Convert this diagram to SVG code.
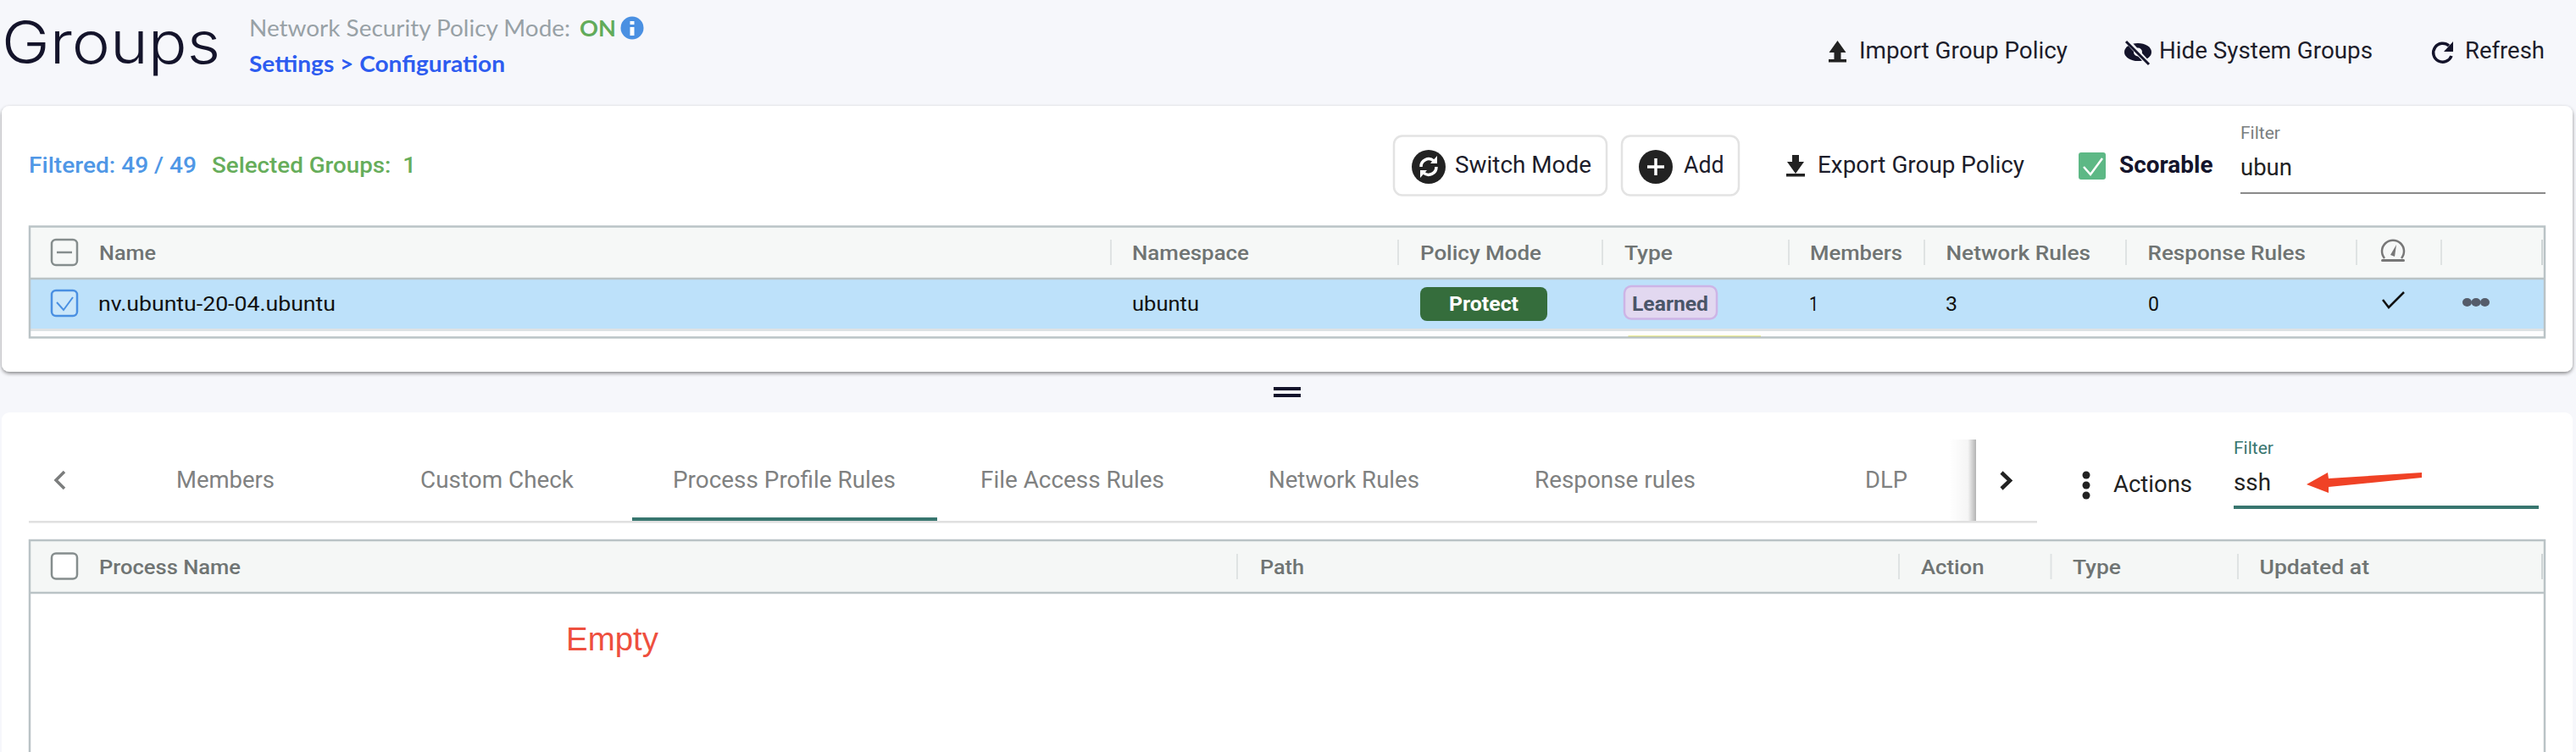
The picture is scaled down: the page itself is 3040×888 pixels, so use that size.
<svg xmlns="http://www.w3.org/2000/svg" width="3040" height="888" viewBox="0 0 3040 888">
<defs>
<style>
text{font-family:"Roboto","Liberation Sans",sans-serif;white-space:pre}
.hd{font-size:24px;font-weight:500;fill:#6f7473}
.cell{font-size:24px;fill:#111}
.tab{font-size:28px;fill:#7f8181}
.act{font-size:28px;fill:#1d1d2b}
.sep{stroke:#dfe3e3;stroke-width:2}
.sepd{stroke:#cfd5d6;stroke-width:2}
.panel{fill:#fff}
.border{stroke:#bac3c6;stroke-width:2.5;fill:none}
.btn{fill:#fff;stroke:#e3e3e3;stroke-width:2.5}
.dark{fill:#222}
.ic{fill:none;stroke:#fff;stroke-width:3.5}
</style>
<filter id="sh" x="-2%" y="-5%" width="104%" height="110%"><feDropShadow dx="0" dy="2" stdDeviation="2" flood-color="#000" flood-opacity=".45"/></filter>
<linearGradient id="fade"><stop offset="0" stop-color="#000" stop-opacity="0"/><stop offset=".7" stop-color="#000" stop-opacity=".04"/><stop offset="1" stop-color="#000" stop-opacity=".3"/></linearGradient>
</defs>
<rect width="3040" height="888" fill="#f6f7fb"/>

<g id="page-header">
<text x="2" y="75" font-size="70" font-weight="300" fill="#14142b" textLength="258" lengthAdjust="spacingAndGlyphs" style="font-family:Inter,Roboto,sans-serif">Groups</text>
<text x="294" y="43" font-size="26" fill="#98a1a6" textLength="379" lengthAdjust="spacingAndGlyphs" style="font-family:Lato,sans-serif">Network Security Policy Mode:</text>
<text x="684" y="43" font-size="27" font-weight="700" fill="#62ab5a" textLength="43" lengthAdjust="spacingAndGlyphs" style="font-family:Lato,sans-serif">ON</text>
<g id="info-icon"><circle cx="746" cy="33" r="13.5" fill="#4a90e2"/><rect x="743.5" y="32" width="5" height="10" fill="#fff"/><rect x="743.5" y="25" width="5" height="4" fill="#fff"/></g>
<text x="294" y="85" font-size="27" font-weight="700" fill="#2d5cf0" textLength="302" lengthAdjust="spacingAndGlyphs" style="font-family:Lato,sans-serif">Settings &gt; Configuration</text>
</g>

<g id="toolbar-top">
<g id="import-policy"><path d="M2168.500 48l10 14h-6v8h-8v-8h-6z" class="dark"/><rect x="2158" y="70" width="21" height="3.5" class="dark"/>
<text x="2194" y="69" class="act" textLength="246" lengthAdjust="spacingAndGlyphs">Import Group Policy</text></g>
<g id="hide-system"><ellipse cx="2523" cy="61.500" rx="16" ry="10.500" fill="#14142b"/><circle cx="2523" cy="61.500" r="5" fill="#f6f7fb"/><path d="M2512 50l24 26" stroke="#f6f7fb" stroke-width="6"/><path d="M2509 49l27 27" stroke="#14142b" stroke-width="3"/>
<text x="2548" y="69" class="act" textLength="252" lengthAdjust="spacingAndGlyphs">Hide System Groups</text></g>
<g id="refresh"><path d="M2890 54a11 11 0 1 0 3 12" fill="none" stroke="#14142b" stroke-width="3.500"/><path d="M2895 49v12h-11z" fill="#14142b"/>
<text x="2909" y="69" class="act" textLength="94" lengthAdjust="spacingAndGlyphs">Refresh</text></g>
</g>

<g id="groups-panel">
<rect class="panel" x="2" y="125" width="3034" height="314" rx="9" filter="url(#sh)"/>
<text x="34" y="204" font-size="26" font-weight="500" fill="#4f97e6" textLength="198" lengthAdjust="spacingAndGlyphs">Filtered: 49 / 49</text>
<text x="250" y="204" font-size="26" font-weight="500" fill="#66ad5a" textLength="241" lengthAdjust="spacingAndGlyphs">Selected Groups:  1</text>
<g id="btn-switch"><rect class="btn" x="1645" y="160.500" width="251" height="70" rx="10"/><circle class="dark" cx="1686" cy="197" r="20"/><path class="ic" d="M1677 197a9 9 0 0 1 15-7M1695 197a9 9 0 0 1-15 7" stroke-width="2.500"/><path d="M1696 184v9h-8zM1676 210v-9h8z" fill="#fff"/>
<text x="1717" y="204" class="act" textLength="161" lengthAdjust="spacingAndGlyphs">Switch Mode</text></g>
<g id="btn-add"><rect class="btn" x="1914" y="160.500" width="138" height="70" rx="10"/><circle class="dark" cx="1954" cy="197" r="20"/><path class="ic" d="M1944 197h20M1954 187v20"/>
<text x="1987" y="204" class="act" textLength="47.500" lengthAdjust="spacingAndGlyphs">Add</text></g>
<g id="export-policy"><path d="M2119 205l-10-14h6v-8h8v8h6z" class="dark"/><rect x="2108" y="205" width="22" height="3.500" class="dark"/>
<text x="2145" y="204" class="act" textLength="244" lengthAdjust="spacingAndGlyphs">Export Group Policy</text></g>
<g id="scorable"><rect x="2453" y="180" width="32" height="32" rx="3" fill="#5db885"/><path d="M2459 197l8 9 14-19" fill="none" stroke="#fff" stroke-width="2.500"/>
<text x="2501" y="204" font-size="28" font-weight="700" fill="#14142b" textLength="110.500" lengthAdjust="spacingAndGlyphs">Scorable</text></g>
<g id="filter-top"><text x="2644" y="164" font-size="20" fill="#7a7f80" textLength="47" lengthAdjust="spacingAndGlyphs">Filter</text>
<text x="2644" y="207" font-size="28" fill="#222" textLength="61" lengthAdjust="spacingAndGlyphs">ubun</text>
<rect x="2644" y="227" width="360" height="2" fill="#8a8a8a"/></g>

<g id="groups-table">
<rect x="34" y="267" width="2970" height="132" fill="#fdfdfe"/>
<rect x="34" y="267" width="2970" height="62" fill="#f6f8f7"/>
<rect x="34" y="330" width="2970" height="58" fill="#bde1fa"/>
<rect x="34" y="388" width="2970" height="3" fill="#dde2e4"/>
<rect x="1921.500" y="396.500" width="156.500" height="1.500" fill="#e3e34a"/>
<path class="border" d="M34 329H3004"/>
<rect class="border" x="35" y="267.500" width="2968" height="131"/>
<g id="cb-all"><rect x="61" y="283" width="30" height="30" rx="5" fill="none" stroke="#858d8d" stroke-width="2.500"/><path d="M67 298h18" stroke="#858d8d" stroke-width="2.500"/></g>
<g id="cb-row"><rect x="61" y="343" width="30" height="30" rx="5" fill="#eaf5fd" fill-opacity=".3" stroke="#4a90e2" stroke-width="2.500"/><path d="M67 357l8 9 11-15" fill="none" stroke="#4a90e2" stroke-width="2"/></g>
<text class="hd" x="117" y="307" textLength="67" lengthAdjust="spacingAndGlyphs">Name</text>
<path class="sep" d="M1311 283v30M1650 283v30M1891 283v30M2111 283v30M2271 283v30M2509 283v30M2781 283v30M2881 283v30"/>
<path class="sepd" d="M3000 283v30"/>
<text class="hd" x="1336" y="307" textLength="138" lengthAdjust="spacingAndGlyphs">Namespace</text>
<text class="hd" x="1676" y="307" textLength="143" lengthAdjust="spacingAndGlyphs">Policy Mode</text>
<text class="hd" x="1917" y="307" textLength="57" lengthAdjust="spacingAndGlyphs">Type</text>
<text class="hd" x="2136" y="307" textLength="109" lengthAdjust="spacingAndGlyphs">Members</text>
<text class="hd" x="2296.500" y="307" textLength="170.500" lengthAdjust="spacingAndGlyphs">Network Rules</text>
<text class="hd" x="2534.500" y="307" textLength="186.500" lengthAdjust="spacingAndGlyphs">Response Rules</text>
<g id="gauge-icon"><path d="M2814 305a13 13 0 1 1 20 0" fill="none" stroke="#777" stroke-width="2.500"/><path d="M2821 301l7-12-2 14z" fill="#777"/><rect x="2810" y="306" width="28" height="3" rx="1.500" fill="#777"/></g>
<text class="cell" x="116" y="367" textLength="280" lengthAdjust="spacingAndGlyphs">nv.ubuntu-20-04.ubuntu</text>
<text class="cell" x="1336" y="367" textLength="79" lengthAdjust="spacingAndGlyphs">ubuntu</text>
<g id="badge-protect"><rect x="1676" y="339" width="150" height="40" rx="8" fill="#356d3c"/><text x="1710" y="367" font-size="23" font-weight="700" fill="#fff" textLength="82" lengthAdjust="spacingAndGlyphs">Protect</text></g>
<g id="badge-learned"><rect x="1917" y="338" width="109" height="38.500" rx="8" fill="#e2d8f0" stroke="#cdb4e6" stroke-width="2.500"/><text x="1926" y="367" font-size="23" font-weight="700" fill="#4a5568" textLength="90" lengthAdjust="spacingAndGlyphs">Learned</text></g>
<text class="cell" x="2135" y="367" textLength="11" lengthAdjust="spacingAndGlyphs">1</text>
<text class="cell" x="2296" y="367" textLength="14" lengthAdjust="spacingAndGlyphs">3</text>
<text class="cell" x="2535" y="367" textLength="13" lengthAdjust="spacingAndGlyphs">0</text>
<path d="M2812 354l7 9 18-18" fill="none" stroke="#111" stroke-width="2.500"/>
<g id="row-menu" fill="#555c6a"><ellipse cx="2911.500" cy="357" rx="5.500" ry="5"/><ellipse cx="2922" cy="357" rx="5.500" ry="5"/><ellipse cx="2932.500" cy="357" rx="5.500" ry="5"/></g>
</g>
</g>

<g id="split-handle"><rect x="1503" y="457" width="32" height="4" fill="#14142b"/><rect x="1503" y="465" width="32" height="4" fill="#14142b"/></g>

<g id="details-panel">
<rect class="panel" x="2" y="487" width="3034" height="420" rx="9"/>
<g id="tabs">
<path d="M76 557l-10 10 10 10" fill="none" stroke="#7b7d7d" stroke-width="3.500"/>
<text class="tab" x="208" y="576" textLength="116" lengthAdjust="spacingAndGlyphs">Members</text>
<text class="tab" x="496" y="576" textLength="181" lengthAdjust="spacingAndGlyphs">Custom Check</text>
<text class="tab" x="794" y="576" textLength="263" lengthAdjust="spacingAndGlyphs">Process Profile Rules</text>
<text class="tab" x="1157" y="576" textLength="217" lengthAdjust="spacingAndGlyphs">File Access Rules</text>
<text class="tab" x="1497" y="576" textLength="178" lengthAdjust="spacingAndGlyphs">Network Rules</text>
<text class="tab" x="1811" y="576" textLength="190" lengthAdjust="spacingAndGlyphs">Response rules</text>
<text class="tab" x="2201" y="576" textLength="50" lengthAdjust="spacingAndGlyphs">DLP</text>
<rect x="34" y="615" width="2370" height="2.500" fill="#e0e0e0"/>
<rect x="746" y="611" width="360" height="4" fill="#38766f"/>
<rect x="2300" y="519" width="32" height="96" fill="url(#fade)"/>
<path d="M2362 558l10 9.500-10 9.500" fill="none" stroke="#222" stroke-width="4.500"/>
</g>
<g id="actions"><circle class="dark" cx="2462" cy="561" r="4.500"/><circle class="dark" cx="2462" cy="573" r="4.500"/><circle class="dark" cx="2462" cy="585" r="4.500"/>
<text class="act" x="2494" y="581" textLength="93" lengthAdjust="spacingAndGlyphs" style="fill:#222">Actions</text></g>
<g id="filter-bottom"><text x="2636" y="536" font-size="20" fill="#38766f" textLength="47" lengthAdjust="spacingAndGlyphs">Filter</text>
<text x="2636" y="579" font-size="28" fill="#222" textLength="44" lengthAdjust="spacingAndGlyphs">ssh</text>
<rect x="2636" y="597" width="360" height="4" fill="#38766f"/></g>
<g id="process-table">
<rect x="34" y="638" width="2970" height="62" fill="#f5f7f6"/>
<path class="border" d="M34 700H3004M35 888V638H3003V888"/>
<rect x="61" y="653.500" width="30" height="30" rx="5" fill="#fff" stroke="#858d8d" stroke-width="2.500"/>
<text class="hd" x="117" y="678" textLength="167" lengthAdjust="spacingAndGlyphs">Process Name</text>
<path class="sep" d="M1460 654v30M2241 654v30M2420.500 654v30M2641 654v30"/>
<path class="sepd" d="M3000 654v30"/>
<text class="hd" x="1487" y="678" textLength="52" lengthAdjust="spacingAndGlyphs">Path</text>
<text class="hd" x="2267" y="678" textLength="74.500" lengthAdjust="spacingAndGlyphs">Action</text>
<text class="hd" x="2446" y="678" textLength="57" lengthAdjust="spacingAndGlyphs">Type</text>
<text class="hd" x="2666.500" y="678" textLength="129.500" lengthAdjust="spacingAndGlyphs">Updated at</text>
</g>
<text id="empty-note" x="668" y="768" font-size="38" fill="#ee4f3e" textLength="109" lengthAdjust="spacingAndGlyphs" style="font-family:'Liberation Sans',sans-serif">Empty</text>
</g>

<g id="connectors">
<path d="M2722 572l25-14 1 7 110-7v6l-110 11v7z" fill="#f04226"/>
</g>
</svg>
